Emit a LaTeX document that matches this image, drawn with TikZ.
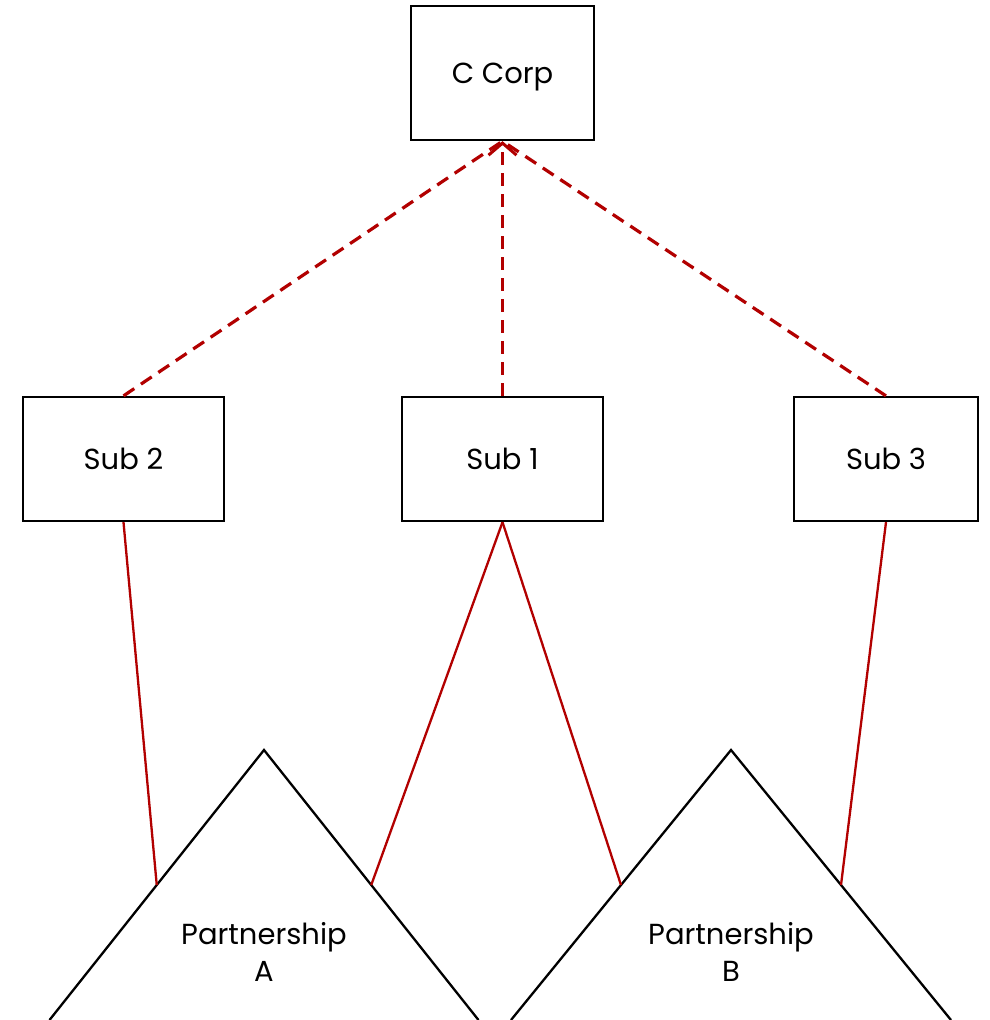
\documentclass[tikz,border=0pt]{standalone}
\usepackage{fontspec}
\setmainfont{Poppins}
\usetikzlibrary{arrows.meta,calc}
\definecolor{linkred}{HTML}{B20000}
\begin{document}
\begin{tikzpicture}[x=1pt,y=-1pt,
  box/.style={draw=black,line width=2.3pt,fill=white,inner sep=0pt,
    font=\fontsize{29}{37}\selectfont},
  label/.style={inner sep=0pt,align=center,font=\fontsize{29}{37}\selectfont},
  tri/.style={draw=black,line width=2.3pt,line join=miter},
  owns/.style={draw=linkred,line width=3.2pt,dash pattern=on 13pt off 8pt},
  holds/.style={draw=linkred,line width=2.3pt}]
\useasboundingbox (0,0) rectangle (989,1020);
\fill[white] (0,0) rectangle (989,1020);
% entities
\node[box,text depth=0pt,minimum width=183pt,minimum height=134pt] (corp) at (502.5,73) {C Corp};
\node[box,minimum width=201pt,minimum height=124pt] (sub2) at (123.5,459) {Sub 2};
\node[box,minimum width=201pt,minimum height=124pt] (sub1) at (502.5,459) {Sub 1};
\node[box,minimum width=184pt,minimum height=124pt] (sub3) at (886,459) {Sub 3};
% partnership triangles (base lies on the lower edge)
\coordinate (aTop) at (264,750);
\coordinate (aBL) at (49.5,1020);
\coordinate (aBR) at (478.5,1020);
\coordinate (bTop) at (731,750);
\coordinate (bBL) at (511,1020);
\coordinate (bBR) at (951,1020);
\draw[tri] (aBL) -- (aTop) -- (aBR);
\draw[tri] (bBL) -- (bTop) -- (bBR);
\coordinate (aL) at ($(aTop)!0.5!(aBL)$);
\coordinate (aR) at ($(aTop)!0.5!(aBR)$);
\coordinate (bL) at ($(bTop)!0.5!(bBL)$);
\coordinate (bR) at ($(bTop)!0.5!(bBR)$);
\node[label] (pa) at (264,952) {Partnership\\A};
\node[label] (pb) at (731,952) {Partnership\\B};
% ownership links
\draw[owns] (sub2.north) -- (corp.south);
\draw[owns] (sub3.north) -- (corp.south);
\draw[owns,-{Straight Barb[length=12pt,width=28pt,line width=3pt]}] (sub1.north) -- (corp.south);
\draw[holds] (sub2.south) -- (aL);
\draw[holds] (sub1.south) -- (aR);
\draw[holds] (sub1.south) -- (bL);
\draw[holds] (sub3.south) -- (bR);
\end{tikzpicture}
\end{document}
